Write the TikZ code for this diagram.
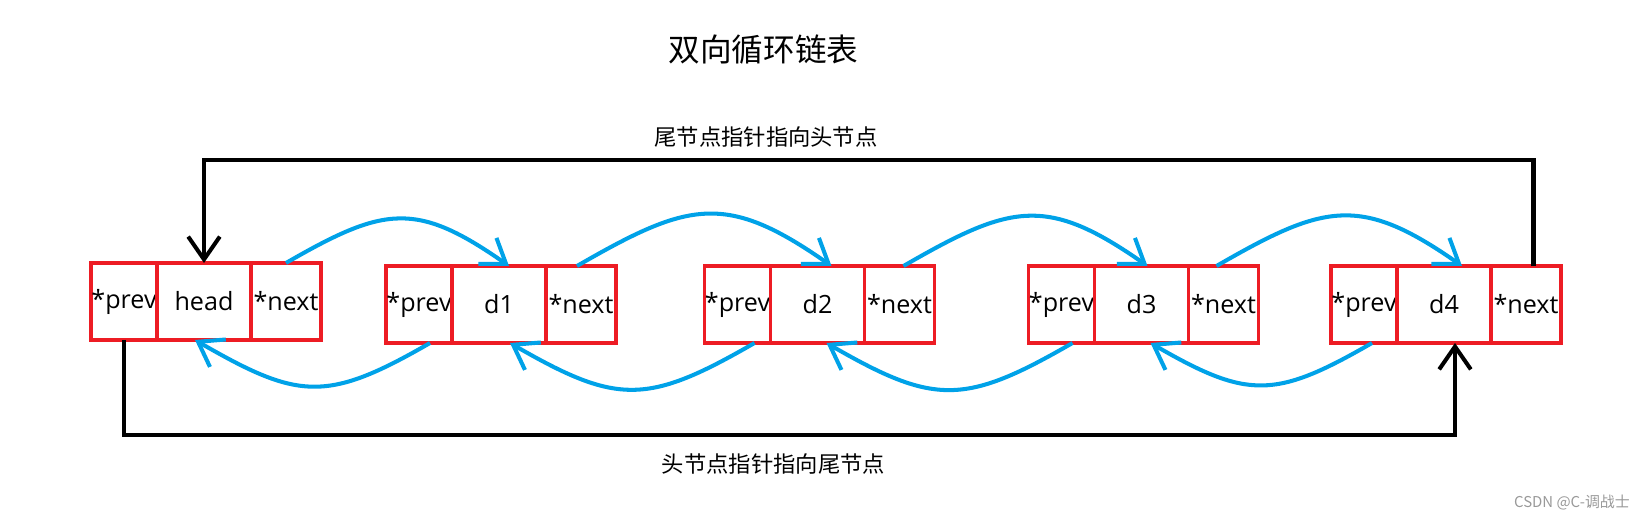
\documentclass[tikz,border=0pt]{standalone}
\usepackage{fontspec}
\setmainfont{Open Sans}
\newfontfamily\cjk{Noto Sans CJK SC}
\usepackage{tikz}
\usetikzlibrary{arrows.meta}
\usetikzlibrary{positioning}
\definecolor{boxred}{HTML}{ED1C24}
\definecolor{ptrblue}{HTML}{00A2E8}
\tikzset{
    cell/.style={
           rectangle,
           draw=boxred, line width=2pt,
           minimum height=1.54cm,
           inner sep=0pt, outer sep=0pt,
           text centered,
           font=\fontsize{14.3}{17}\selectfont,
           },
    prevcell/.style={cell, minimum width=1.32cm},
    datacell/.style={cell, minimum width=1.88cm},
    nextcell/.style={cell, minimum width=1.40cm},
    nextptr/.style={draw=ptrblue, line width=2.3pt, out=30, in=145, looseness=1.3},
    prevptr/.style={draw=ptrblue, line width=2.3pt, out=-150, in=-30, looseness=1.3},
    link/.style={draw=black, line width=2.3pt},
    caption/.style={font=\cjk\fontsize{12.7}{15}\selectfont},
}

\begin{document}
\begin{tikzpicture}[->,>={Straight Barb[length=13pt,width=18pt]}]
        \useasboundingbox (0,0) rectangle (33.04,10.42);

        % Title
        \node[font=\cjk\fontsize{18}{22}\selectfont] (TITLE) at (15.27,9.43) {双向循环链表};

        % NODE head
        \node[prevcell] (HEAD_PREV) at (2.48,4.39) {*prev};
        \node[datacell, right=0pt of HEAD_PREV] (HEAD_DATA) {head};
        \node[nextcell, right=0pt of HEAD_DATA] (HEAD_NEXT) {*next};

        % NODE d1
        \node[prevcell,
            right=1.3cm of HEAD_NEXT,
            yshift=-0.06cm] (D1_PREV) {*prev};
        \node[datacell, right=0pt of D1_PREV] (D1_DATA) {d1};
        \node[nextcell, right=0pt of D1_DATA] (D1_NEXT) {*next};

        % NODE d2
        \node[prevcell, right=1.77cm of D1_NEXT] (D2_PREV) {*prev};
        \node[datacell, right=0pt of D2_PREV] (D2_DATA) {d2};
        \node[nextcell, right=0pt of D2_DATA] (D2_NEXT) {*next};

        % NODE d3
        \node[prevcell, right=1.88cm of D2_NEXT] (D3_PREV) {*prev};
        \node[datacell, right=0pt of D3_PREV] (D3_DATA) {d3};
        \node[nextcell, right=0pt of D3_DATA] (D3_NEXT) {*next};

        % NODE d4 (tail)
        \node[prevcell, right=1.45cm of D3_NEXT] (D4_PREV) {*prev};
        \node[datacell, right=0pt of D4_PREV] (D4_DATA) {d4};
        \node[nextcell, right=0pt of D4_DATA] (D4_NEXT) {*next};

        % next pointers (above) and prev pointers (below)
        \path
            (HEAD_NEXT.north)                 edge[nextptr] ([xshift=0.2cm]D1_DATA.north)
            ([xshift=-0.08cm]D1_NEXT.north)   edge[nextptr] ([xshift=0.28cm]D2_DATA.north)
            ([xshift=0.08cm]D2_NEXT.north)    edge[nextptr] ([xshift=0.12cm]D3_DATA.north)
            ([xshift=-0.14cm]D3_NEXT.north)   edge[nextptr] ([xshift=0.36cm]D4_DATA.north)
            ([xshift=0.22cm]D1_PREV.south)    edge[prevptr] ([xshift=-0.18cm]HEAD_DATA.south)
            ([xshift=0.34cm]D2_PREV.south)    edge[prevptr] ([xshift=0.22cm]D1_DATA.south)
            ([xshift=0.22cm]D3_PREV.south)    edge[prevptr] ([xshift=0.18cm]D2_DATA.south)
            ([xshift=0.16cm]D4_PREV.south)    edge[prevptr] ([xshift=0.18cm]D3_DATA.south)
            ;

        % tail -> head
        \draw[link] ([xshift=0.15cm]D4_NEXT.north) -- ++(0,2.12) -| (HEAD_DATA.north);
        \node[caption] (TAIL_LABEL) at (15.32,7.68) {尾节点指针指向头节点};

        % head -> tail
        \draw[link] (HEAD_PREV.south) -- ++(0,-1.9) -| ([xshift=0.22cm]D4_DATA.south);
        \node[caption] (HEAD_LABEL) at (15.47,1.15) {头节点指针指向尾节点};

        \node[font=\cjk\fontsize{8.5}{10}\selectfont, text=black!40, anchor=east] (MARK) at (32.72,0.36) {CSDN @C-调战士};
\end{tikzpicture}
\end{document}
